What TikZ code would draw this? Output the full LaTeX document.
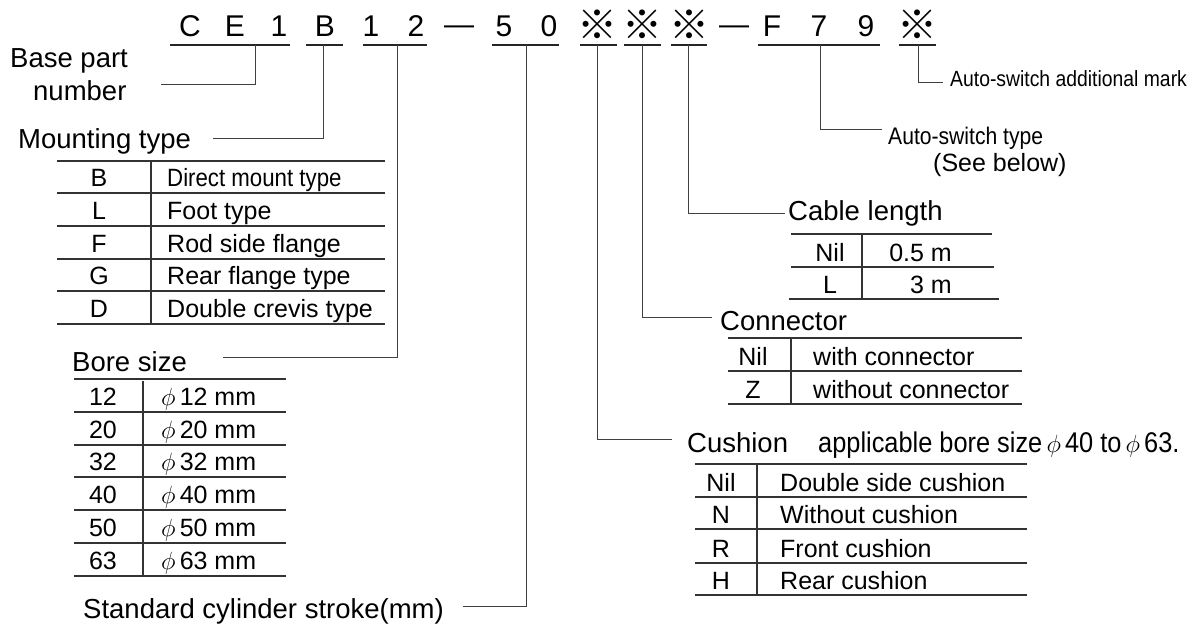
\documentclass[tikz,border=0pt]{standalone}
\usepackage{fontspec}
\usepackage{tikz}
\usetikzlibrary{positioning}
\setmainfont{Liberation Sans}
\newfontfamily\cjk{Noto Sans CJK JP}
\newfontfamily\narrowsans[FakeStretch=0.89]{Liberation Sans}
\newfontfamily\slimsans[FakeStretch=0.88]{Liberation Sans}
\newcommand{\codefont}{\fontsize{30}{36}\selectfont}
\newcommand{\lblfont}{\fontsize{27.5}{32}\selectfont}
\newcommand{\cellfont}{\fontsize{25}{30}\selectfont}
\newcommand{\notefont}{\slimsans\fontsize{22}{26}\selectfont}
\newcommand{\refmark}{{\cjk\fontsize{40}{44}\selectfont ※}}

\begin{document}
\begin{tikzpicture}[x=1pt,y=1pt,yscale=-1,xscale=1,
  codech/.style={font=\codefont,inner sep=0pt,anchor=base},
  lbl/.style={font=\lblfont,inner sep=0pt,anchor=base west},
  note/.style={font=\notefont,inner sep=0pt,anchor=base west},
  cellc/.style={font=\cellfont,inner sep=0pt,anchor=base},
  celll/.style={font=\cellfont,inner sep=0pt,anchor=base west},
  uline/.style={line width=1.4pt,draw=black!85},
  lead/.style={line width=0.9pt,draw=black!75},
  rule/.style={line width=1.1pt,draw=black!80}]
\path[use as bounding box] (0,0) rectangle (1203,626);

% Code characters
\draw (190,37) node (cC) [codech] {C};
\draw (235,37) node (cE) [codech] {E};
\draw (279,37) node (cOne) [codech] {1};
\draw (325,37) node (cB) [codech] {B};
\draw (371,37) node (cBa) [codech] {1};
\draw (416,37) node (cBb) [codech] {2};
\draw (459,35) node (cDashA) [codech] {—};
\draw (504,37) node (cSa) [codech] {5};
\draw (549,37) node (cSb) [codech] {0};
\draw (597,39.5) node (cCush) [codech] {\refmark};
\draw (642,39.5) node (cConn) [codech] {\refmark};
\draw (689,39.5) node (cCab) [codech] {\refmark};
\draw (734,35) node (cDashB) [codech] {—};
\draw (772,37) node (cF) [codech] {F};
\draw (819,37) node (cSeven) [codech] {7};
\draw (866,37) node (cNine) [codech] {9};
\draw (917,39.5) node (cAdd) [codech] {\refmark};

%Straight Lines: underlines
\draw [uline] (170,45) -- (290,45) ;
\draw [uline] (306,45) -- (343,45) ;
\draw [uline] (363,45) -- (427,45) ;
\draw [uline] (492,45) -- (559,45) ;
\draw [uline] (580,45) -- (617,45) ;
\draw [uline] (624,45) -- (661,45) ;
\draw [uline] (671,45) -- (707,45) ;
\draw [uline] (758,45) -- (880,45) ;
\draw [uline] (899,45) -- (936,45) ;

% Leader start and end points
\coordinate (pBase) at (255,45);
\coordinate (eBase) at (161,84);
\coordinate (pMount) at (323,45);
\coordinate (eMount) at (213,138);
\coordinate (pBore) at (397,45);
\coordinate (eBore) at (223,357);
\coordinate (pStroke) at (526,45);
\coordinate (eStroke) at (463,606);
\coordinate (pCush) at (597,45);
\coordinate (eCush) at (672,439);
\coordinate (pConn) at (642,45);
\coordinate (eConn) at (712,317);
\coordinate (pCab) at (688,45);
\coordinate (eCab) at (785,213);
\coordinate (pType) at (820,45);
\coordinate (eType) at (882,129);
\coordinate (pAdd) at (918,45);
\coordinate (eAdd) at (943,82);

%Straight Lines: leaders
\draw [lead] (pBase) |- (eBase) ;
\draw [lead] (pMount) |- (eMount) ;
\draw [lead] (pBore) |- (eBore) ;
\draw [lead] (pStroke) |- (eStroke) ;
\draw [lead] (pCush) |- (eCush) ;
\draw [lead] (pConn) |- (eConn) ;
\draw [lead] (pCab) |- (eCab) ;
\draw [lead] (pType) |- (eType) ;
\draw [lead] (pAdd) |- (eAdd) ;

% Text Node: labels
\draw (10,67) node (lBase) [lbl] {Base part};
\draw (33,100) node (lNumber) [lbl] {number};
\draw (18,148) node (lMount) [lbl] {Mounting type};
\draw (72,371) node (lBore) [lbl] {Bore size};
\draw (83,618) node (lStroke) [lbl] {Standard cylinder stroke(mm)};
\draw (788,220) node (lCab) [lbl] {Cable length};
\draw (720,330) node (lConn) [lbl] {Connector};
\draw (687,452) node (lCush) [lbl] {Cushion};
\draw (818,452) node (lCushNote) [celll,font=\narrowsans\fontsize{28.5}{32}\selectfont] {applicable bore size$\,\phi\,$40 to$\,\phi\,$63.};
\draw (888,144) node (lType) [note,font=\slimsans\fontsize{24}{28}\selectfont] {Auto-switch type};
\draw (950,87) node (lAdd) [note] {Auto-switch additional mark};
\draw (933,171) node (lSee) [celll] {(See below)};

%Straight Lines: mounting type table
\draw [rule] (57,161) -- (385,161) ;
\draw [rule] (57,193) -- (385,193) ;
\draw [rule] (57,226) -- (385,226) ;
\draw [rule] (57,259) -- (385,259) ;
\draw [rule] (57,291) -- (385,291) ;
\draw [rule] (57,324) -- (385,324) ;
\draw [rule] (151,161) -- (151,324) ;
% Text Node
\draw (99,186.5) node (mB) [cellc] {B};
\draw (167,186.5) node (mBd) [celll] {\narrowsans Direct mount type};
\draw (99,219.5) node (mL) [cellc] {L};
\draw (167,219.5) node (mLd) [celll] {Foot type};
\draw (99,252.5) node (mF) [cellc] {F};
\draw (167,252.5) node (mFd) [celll] {Rod side flange};
\draw (99,284.5) node (mG) [cellc] {G};
\draw (167,284.5) node (mGd) [celll] {Rear flange type};
\draw (99,317.5) node (mD) [cellc] {D};
\draw (167,317.5) node (mDd) [celll] {Double crevis type};

%Straight Lines: bore size table
\draw [rule] (74,379) -- (286,379) ;
\draw [rule] (74,412) -- (286,412) ;
\draw [rule] (74,445) -- (286,445) ;
\draw [rule] (74,477) -- (286,477) ;
\draw [rule] (74,510) -- (286,510) ;
\draw [rule] (74,543) -- (286,543) ;
\draw [rule] (74,576) -- (286,576) ;
\draw [rule] (143,381) -- (143,576) ;
% Text Node
\draw (103,405.5) node (b12) [cellc] {12};
\draw (161,405.5) node (b12d) [celll] {$\phi\,$12 mm};
\draw (103,438.5) node (b20) [cellc] {20};
\draw (161,438.5) node (b20d) [celll] {$\phi\,$20 mm};
\draw (103,470.5) node (b32) [cellc] {32};
\draw (161,470.5) node (b32d) [celll] {$\phi\,$32 mm};
\draw (103,503.5) node (b40) [cellc] {40};
\draw (161,503.5) node (b40d) [celll] {$\phi\,$40 mm};
\draw (103,536.5) node (b50) [cellc] {50};
\draw (161,536.5) node (b50d) [celll] {$\phi\,$50 mm};
\draw (103,569.5) node (b63) [cellc] {63};
\draw (161,569.5) node (b63d) [celll] {$\phi\,$63 mm};

%Straight Lines: cable length table
\draw [rule] (791,234) -- (992,234) ;
\draw [rule] (791,267) -- (994,267) ;
\draw [rule] (789,299) -- (999,299) ;
\draw [rule] (862,234) -- (862,299) ;
% Text Node
\draw (830,261.5) node (kNil) [cellc] {Nil};
\draw (952,261.5) node (kNild) [cellc,anchor=base east] {0.5 m};
\draw (830,293.5) node (kL) [cellc] {L};
\draw (952,293.5) node (kLd) [cellc,anchor=base east] {3 m};

%Straight Lines: connector table
\draw [rule] (728,338) -- (1022,338) ;
\draw [rule] (728,371) -- (1022,371) ;
\draw [rule] (728,404) -- (1022,404) ;
\draw [rule] (791,338) -- (791,404) ;
% Text Node
\draw (753,365.5) node (nNil) [cellc] {Nil};
\draw (813,365.5) node (nNild) [celll] {with connector};
\draw (753,398.5) node (nZ) [cellc] {Z};
\draw (813,398.5) node (nZd) [celll] {without connector};

%Straight Lines: cushion table
\draw [rule] (695,464) -- (1027,464) ;
\draw [rule] (695,497) -- (1027,497) ;
\draw [rule] (695,529) -- (1027,529) ;
\draw [rule] (695,563) -- (1027,563) ;
\draw [rule] (695,595) -- (1027,595) ;
\draw [rule] (757,464) -- (757,595) ;
% Text Node
\draw (721,491.5) node (sNil) [cellc] {Nil};
\draw (780,491.5) node (sNild) [celll] {Double side cushion};
\draw (721,523.5) node (sN) [cellc] {N};
\draw (780,523.5) node (sNd) [celll] {Without cushion};
\draw (721,557.5) node (sR) [cellc] {R};
\draw (780,557.5) node (sRd) [celll] {Front cushion};
\draw (721,589.5) node (sH) [cellc] {H};
\draw (780,589.5) node (sHd) [celll] {Rear cushion};

\end{tikzpicture}
\end{document}
